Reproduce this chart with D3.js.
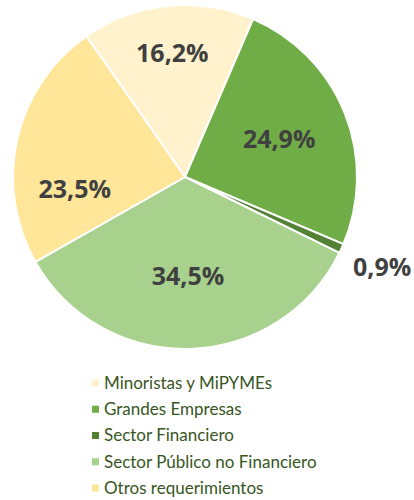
<!DOCTYPE html>
<html>
<head>
<meta charset="utf-8">
<script src="https://cdn.jsdelivr.net/npm/d3@7"></script>
<style>
  html, body { margin: 0; padding: 0; background: #fff; }
  svg { display: block; }
</style>
</head>
<body>
<div id="chart"></div>
<script>
// Chart data
var categories = ['Minoristas y MiPYMEs', 'Grandes Empresas', 'Sector Financiero',
                  'Sector Público no Financiero', 'Otros requerimientos'];
var values = [16.2, 24.9, 0.9, 34.5, 23.5];
var labels = ['16,2%', '24,9%', '0,9%', '34,5%', '23,5%'];
var colors = ['#FFF2CC', '#70AD47', '#548235', '#A9D18E', '#FFE699'];

(function() {
  var width = 414, height = 500;
  var cx = 185, cy = 177, radius = 172;
  var startDeg = -35;

  // label placement (fraction of radius, angle nudge in degrees) - mimics Excel best fit
  var labelPlace = [[0.725, 0], [0.59, 0], [1.26, 0], [0.58, 0], [0.645, -19]];

  var svg = d3.select('#chart').append('svg')
    .attr('width', width)
    .attr('height', height);

  var rad = Math.PI / 180;
  var pie = d3.pie()
    .sort(null)
    .startAngle(startDeg * rad)
    .endAngle((startDeg + 360) * rad);

  var arc = d3.arc().innerRadius(0).outerRadius(radius);

  var data = values.map(function(v, i) { return { value: v, i: i }; });
  var arcs = pie.value(function(d) { return d.value; })(data);

  var g = svg.append('g').attr('transform', 'translate(' + cx + ',' + cy + ')');

  g.selectAll('path.slice')
    .data(arcs)
    .enter().append('path')
    .attr('class', 'slice')
    .attr('d', arc)
    .attr('fill', function(d) { return colors[d.data.i]; })
    .attr('stroke', '#fff')
    .attr('stroke-width', 2)
    .attr('stroke-linejoin', 'round');

  g.selectAll('text.lbl')
    .data(arcs)
    .enter().append('text')
    .attr('class', 'lbl')
    .attr('x', function(d) {
      var p = labelPlace[d.data.i];
      var a = (d.startAngle + d.endAngle) / 2 + p[1] * rad;
      return Math.sin(a) * radius * p[0];
    })
    .attr('y', function(d) {
      var p = labelPlace[d.data.i];
      var a = (d.startAngle + d.endAngle) / 2 + p[1] * rad;
      return -Math.cos(a) * radius * p[0];
    })
    .attr('dy', '0.35em')
    .attr('text-anchor', 'middle')
    .style('font-family', '"Open Sans", sans-serif')
    .style('font-weight', 'bold')
    .style('font-size', '25px')
    .attr('fill', '#404040')
    .text(function(d) { return labels[d.data.i]; });

  // Legend
  var legendY = d3.scalePoint()
    .domain(categories)
    .range([383, 488]);

  var legend = svg.append('g').attr('class', 'legend');
  var items = legend.selectAll('g')
    .data(categories)
    .enter().append('g')
    .attr('transform', function(d) { return 'translate(92,' + legendY(d) + ')'; });

  items.append('rect')
    .attr('x', 0)
    .attr('y', -3.5)
    .attr('width', 7)
    .attr('height', 7)
    .attr('fill', function(d, i) { return colors[i]; });

  items.append('text')
    .attr('x', 12)
    .attr('dy', '0.35em')
    .style('font-family', 'Lato, sans-serif')
    .style('font-size', '17px')
    .attr('fill', '#375623')
    .text(function(d) { return d; });
})();
</script>
</body>
</html>
